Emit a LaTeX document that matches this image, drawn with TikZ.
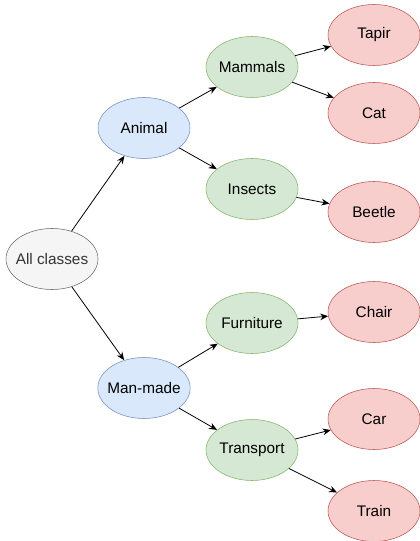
\documentclass[tikz,border=0pt]{standalone}
\usepackage{fontspec}
\setmainfont{Liberation Sans}
\usetikzlibrary{shapes.geometric,arrows.meta}

\definecolor{rootfill}{HTML}{F5F5F5}
\definecolor{rootline}{HTML}{666666}
\definecolor{roottext}{HTML}{333333}
\definecolor{bluefill}{HTML}{DAE8FC}
\definecolor{blueline}{HTML}{6C8EBF}
\definecolor{greenfill}{HTML}{D5E8D4}
\definecolor{greenline}{HTML}{82B366}
\definecolor{redfill}{HTML}{F8CECC}
\definecolor{redline}{HTML}{B85450}

\begin{document}
\begin{tikzpicture}[x=0.75pt,y=-0.75pt,
  every node/.style={ellipse,minimum width=69pt,minimum height=45.75pt,inner xsep=-3pt,inner ysep=0pt,font=\fontsize{11.5}{13}\selectfont},
  rootnode/.style={draw=rootline,fill=rootfill,text=roottext},
  classnode/.style={draw=blueline,fill=bluefill},
  groupnode/.style={draw=greenline,fill=greenfill},
  leafnode/.style={draw=redline,fill=redfill},
  edge/.style={-{Stealth[length=6pt,width=5pt]},line width=0.6pt}]
\useasboundingbox (0,0) rectangle (419,541);
\node[rootnode] (all) at (52,259) {All classes};
\node[classnode] (animal) at (144,128) {Animal};
\node[classnode] (manmade) at (144,388) {Man-made};
\node[groupnode] (mammals) at (252,67) {Mammals};
\node[groupnode] (insects) at (252,189) {Insects};
\node[groupnode] (furniture) at (252,323) {Furniture};
\node[groupnode] (transport) at (252,450) {Transport};
\node[leafnode] (tapir) at (374,35) {Tapir};
\node[leafnode] (cat) at (374,113) {Cat};
\node[leafnode] (beetle) at (374,212) {Beetle};
\node[leafnode] (chair) at (374,312) {Chair};
\node[leafnode] (car) at (374,419) {Car};
\node[leafnode] (train) at (374,511) {Train};
\draw[edge] (all) -- (animal);
\draw[edge] (all) -- (manmade);
\draw[edge] (animal) -- (mammals);
\draw[edge] (animal) -- (insects);
\draw[edge] (manmade) -- (furniture);
\draw[edge] (manmade) -- (transport);
\draw[edge] (mammals) -- (tapir);
\draw[edge] (mammals) -- (cat);
\draw[edge] (insects) -- (beetle);
\draw[edge] (furniture) -- (chair);
\draw[edge] (transport) -- (car);
\draw[edge] (transport) -- (train);
\end{tikzpicture}
\end{document}
